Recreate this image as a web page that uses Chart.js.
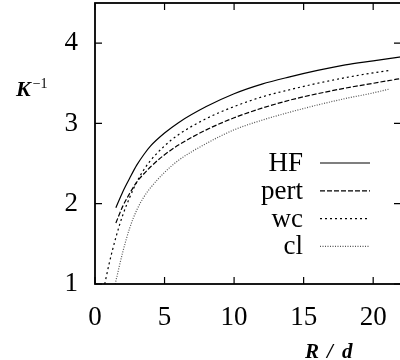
<!DOCTYPE html>
<html>
<head>
<meta charset="utf-8">
<script src="https://cdn.jsdelivr.net/npm/chart.js@4.4.1/dist/chart.umd.min.js"></script>
<style>
  html, body { margin: 0; padding: 0; background: #fff; overflow: hidden; width: 400px; height: 360px; }
  #wrap { width: 403px; height: 360px; }
</style>
</head>
<body>
<div id="wrap"><canvas id="myChart" width="403" height="360"></canvas></div>
<script>
// values (R/d on x, K^-1 on y)
const hfR = [1.5, 2, 2.5, 3, 3.5, 4, 5, 6, 8, 10, 12, 14, 16, 18, 20, 22];
const hfK = [1.95, 2.15, 2.32, 2.48, 2.61, 2.72, 2.88, 3.01, 3.21, 3.37, 3.49, 3.58, 3.66, 3.73, 3.78, 3.83];

const pertR = [1.5, 2, 2.5, 3, 3.5, 4, 5, 6, 8, 10, 12, 14, 16, 18, 20, 22];
const pertK = [1.76, 1.97, 2.13, 2.27, 2.37, 2.46, 2.61, 2.73, 2.92, 3.07, 3.19, 3.29, 3.37, 3.44, 3.5, 3.56];

const wcR = [0.7, 1, 1.5, 2, 2.5, 3, 3.5, 4, 5, 6, 8, 10, 12, 14, 16, 18, 20, 21.2];
const wcK = [1.0, 1.24, 1.58, 1.86, 2.08, 2.27, 2.42, 2.54, 2.72, 2.86, 3.06, 3.21, 3.33, 3.42, 3.5, 3.57, 3.63, 3.66];

const clR = [1.45, 2, 2.5, 3, 3.5, 4, 5, 6, 8, 10, 12, 14, 16, 18, 20, 21.2];
const clK = [1.0, 1.4, 1.7, 1.92, 2.08, 2.2, 2.39, 2.54, 2.75, 2.92, 3.04, 3.14, 3.23, 3.31, 3.38, 3.43];

const xTicks = [0, 5, 10, 15, 20];
const yTicks = [1, 2, 3, 4];

const serif = "'Liberation Serif', 'DejaVu Serif', serif";

function pts(xs, ys) {
  return xs.map((x, i) => ({ x: x, y: ys[i] }));
}

function series(label, xs, ys, dash, color) {
  return {
    label: label,
    data: pts(xs, ys),
    borderColor: color,
    borderWidth: 1.2,
    borderDash: dash,
    pointRadius: 0,
    fill: false,
    cubicInterpolationMode: 'monotone'
  };
}

// frame, inward ticks, legend, axis titles
const frame = {
  id: 'frame',
  afterDraw(chart) {
    const c = chart.ctx;
    const a = chart.chartArea;
    const xs = chart.scales.x, ys = chart.scales.y;
    c.save();
    c.strokeStyle = '#000';
    c.lineWidth = 1.8;
    c.strokeRect(a.left, a.top, a.right - a.left, a.bottom - a.top);
    c.lineWidth = 1.2;
    c.beginPath();
    xTicks.forEach(v => {
      const px = xs.getPixelForValue(v);
      c.moveTo(px, a.bottom); c.lineTo(px, a.bottom - 7);
      c.moveTo(px, a.top); c.lineTo(px, a.top + 7);
    });
    yTicks.forEach(v => {
      const py = ys.getPixelForValue(v);
      c.moveTo(a.left, py); c.lineTo(a.left + 7, py);
      c.moveTo(a.right, py); c.lineTo(a.right - 7, py);
    });
    c.stroke();

    // legend
    c.font = '27px ' + serif;
    c.fillStyle = '#000';
    c.textAlign = 'right';
    c.textBaseline = 'middle';
    chart.data.datasets.forEach((ds, i) => {
      const y = 163 + i * 27.8;
      c.fillText(ds.label, 303, y + 1);
      c.strokeStyle = ds.borderColor;
      c.lineWidth = 1.2;
      c.setLineDash(ds.borderDash);
      c.beginPath();
      c.moveTo(320, y); c.lineTo(370, y);
      c.stroke();
      c.setLineDash([]);
    });

    // axis titles
    c.textAlign = 'left';
    c.textBaseline = 'alphabetic';
    c.font = 'italic bold 22px ' + serif;
    c.fillText('K', 16, 96);
    const kw = c.measureText('K').width;
    c.font = '14px ' + serif;
    c.fillText('\u22121', 16 + kw + 2, 88);
    c.font = 'italic bold 21px ' + serif;
    c.fillText('R', 305, 358);
    c.fillText('/', 327, 358);
    c.fillText('d', 342, 358);
    c.restore();
  }
};

const ctx = document.getElementById('myChart');

new Chart(ctx, {
  type: 'line',
  data: {
    datasets: [
      series('HF', hfR, hfK, [], '#000'),
      series('pert', pertR, pertK, [5, 2], '#000'),
      series('wc', wcR, wcK, [2, 3], '#000'),
      series('cl', clR, clK, [1, 1.5], '#555')
    ]
  },
  options: {
    responsive: false,
    animation: false,
    layout: { padding: { top: 3, right: 2, left: 0, bottom: 0 } },
    plugins: { legend: { display: false }, tooltip: { enabled: false } },
    scales: {
      x: {
        type: 'linear',
        min: 0,
        max: 22,
        afterBuildTicks: s => { s.ticks = xTicks.map(v => ({ value: v })); },
        afterFit: s => { s.height = 76; s.paddingLeft = 0; s.paddingRight = 0; },
        grid: { display: false, drawTicks: false },
        border: { display: false },
        ticks: { color: '#000', font: { family: serif, size: 27 }, padding: 18, maxRotation: 0 }
      },
      y: {
        min: 1,
        max: 4.5,
        afterBuildTicks: s => { s.ticks = yTicks.map(v => ({ value: v })); },
        afterFit: s => { s.width = 95; s.paddingTop = 0; s.paddingBottom = 0; },
        grid: { display: false, drawTicks: false },
        border: { display: false },
        ticks: { color: '#000', font: { family: serif, size: 27 }, padding: 17 }
      }
    }
  },
  plugins: [frame]
});
</script>
</body>
</html>
